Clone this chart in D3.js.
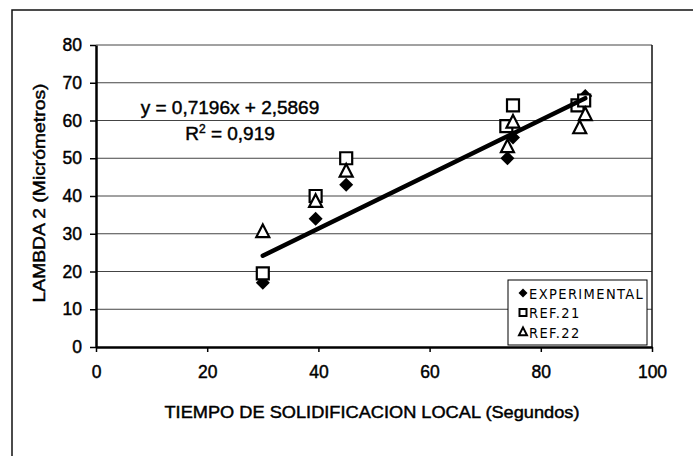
<!DOCTYPE html>
<html>
<head>
<meta charset="utf-8">
<script src="https://cdn.jsdelivr.net/npm/d3@7"></script>
<style>
  body { margin: 0; background: #fff; }
  svg { display: block; font-family: "Liberation Sans", Arial, sans-serif; }
  .ink { stroke: #000; stroke-width: 0.45px; }
</style>
</head>
<body>
<div id="chart"></div>
<script>
// Data
const expX = [30, 39.5, 45, 74, 75, 88];
const expY = [17, 34, 43, 50, 55.5, 66.5];
const ref21X = [30, 39.5, 45, 73.8, 75, 86.6, 87.8];
const ref21Y = [19.5, 40, 50, 58.5, 64, 64, 65.3];
const ref22X = [30, 39.5, 45, 74, 75, 87, 88];
const ref22Y = [30.5, 38.5, 46.5, 53, 59.5, 58, 61.5];
const xTicks = [0, 20, 40, 60, 80, 100];
const yTicks = [0, 10, 20, 30, 40, 50, 60, 70, 80];
const trendSlope = 0.7196, trendIntercept = 2.5869, trendR2 = "0,919";
const trendRange = [30, 88];
const seriesNames = ["EXPERIMENTAL", "REF.21", "REF.22"];

const W = 693, H = 456;
const margin = { top: 45, right: 41, bottom: 109, left: 96 },
      width = W - margin.left - margin.right,
      height = H - margin.top - margin.bottom;

const svg = d3.select("#chart").append("svg")
    .attr("width", W)
    .attr("height", H);

// outer frame (runs off the bottom/right of the picture)
svg.append("rect")
    .attr("x", 12).attr("y", 10)
    .attr("width", 700).attr("height", 470)
    .attr("fill", "none")
    .attr("stroke", "#111")
    .attr("stroke-width", 1.5);

const g = svg.append("g")
    .attr("transform", `translate(${margin.left},${margin.top})`);

// Scales
const x = d3.scaleLinear().domain([0, 100]).range([0, width]);
const y = d3.scaleLinear().domain([0, 80]).range([height, 0]);

// gridlines
g.selectAll("line.grid")
    .data(yTicks.filter(d => d > 0))
    .enter()
    .append("line")
    .attr("class", "grid")
    .attr("x1", 0).attr("x2", width)
    .attr("y1", d => y(d)).attr("y2", d => y(d))
    .attr("stroke", "#444")
    .attr("stroke-width", 1);

// right border
g.append("line")
    .attr("x1", width).attr("x2", width)
    .attr("y1", 0).attr("y2", height)
    .attr("stroke", "#111").attr("stroke-width", 1.5);

// Axes
const xAxis = g.append("g")
    .attr("transform", `translate(0,${height})`)
    .call(d3.axisBottom(x).tickValues(xTicks).tickSize(5).tickPadding(14).tickSizeOuter(0));
const yAxis = g.append("g")
    .call(d3.axisLeft(y).tickValues(yTicks).tickSize(6).tickPadding(8).tickSizeOuter(0));

[xAxis, yAxis].forEach(a => {
    a.select(".domain").attr("stroke", "#000").attr("stroke-width", 2.5);
    a.selectAll(".tick line").attr("stroke", "#000").attr("stroke-width", 1.5);
    a.selectAll(".tick text")
        .attr("class", "ink")
        .style("font-family", "Liberation Sans, Arial, sans-serif")
        .style("font-size", "17.5px")
        .attr("fill", "#000");
});

// marker shapes
const diamond = s => `M0,${-s}L${s},0L0,${s}L${-s},0Z`;
const square = s => `M${-s},${-s}H${s}V${s}H${-s}Z`;
const triangle = s => `M0,${-s * 1.15}L${s},${s * 0.8}L${-s},${s * 0.8}Z`;

const expData = expX.map((v, i) => ({ x: v, y: expY[i] }));
const ref21Data = ref21X.map((v, i) => ({ x: v, y: ref21Y[i] }));
const ref22Data = ref22X.map((v, i) => ({ x: v, y: ref22Y[i] }));

g.selectAll("path.exp")
    .data(expData)
    .enter()
    .append("path")
    .attr("transform", d => `translate(${x(d.x)},${y(d.y)})`)
    .attr("d", diamond(7))
    .attr("fill", "#000");

g.selectAll("path.ref21")
    .data(ref21Data)
    .enter()
    .append("path")
    .attr("transform", d => `translate(${x(d.x)},${y(d.y)})`)
    .attr("d", square(6))
    .attr("fill", "#fff")
    .attr("stroke", "#000")
    .attr("stroke-width", 2.2);

g.selectAll("path.ref22")
    .data(ref22Data)
    .enter()
    .append("path")
    .attr("transform", d => `translate(${x(d.x)},${y(d.y)})`)
    .attr("d", triangle(6.5))
    .attr("fill", "#fff")
    .attr("stroke", "#000")
    .attr("stroke-width", 2.2);

// Trend line
g.append("line")
    .attr("x1", x(trendRange[0]))
    .attr("y1", y(trendSlope * trendRange[0] + trendIntercept))
    .attr("x2", x(trendRange[1]))
    .attr("y2", y(trendSlope * trendRange[1] + trendIntercept))
    .attr("stroke", "#000")
    .attr("stroke-width", 4.5)
    .attr("stroke-linecap", "round");

// Equation labels
g.append("text")
    .attr("class", "ink")
    .attr("x", 134).attr("y", 69)
    .attr("text-anchor", "middle")
    .style("font-size", "19px")
    .text(`y = ${String(trendSlope).replace(".", ",")}x + ${String(trendIntercept).replace(".", ",")}`);

const r2 = g.append("text")
    .attr("class", "ink")
    .attr("x", 134).attr("y", 95)
    .attr("text-anchor", "middle")
    .style("font-size", "19px");
r2.append("tspan").text("R");
r2.append("tspan").attr("dy", -7).style("font-size", "12px").text("2");
r2.append("tspan").attr("dy", 7).text(` = ${trendR2}`);

// Axis titles
svg.append("text")
    .attr("class", "ink")
    .attr("x", 372).attr("y", 418)
    .attr("text-anchor", "middle")
    .attr("textLength", 415)
    .attr("lengthAdjust", "spacingAndGlyphs")
    .style("font-size", "16.5px")
    .text("TIEMPO DE SOLIDIFICACION LOCAL (Segundos)");

svg.append("text")
    .attr("class", "ink")
    .attr("transform", "rotate(-90)")
    .attr("x", -193).attr("y", 45)
    .attr("text-anchor", "middle")
    .attr("textLength", 219)
    .attr("lengthAdjust", "spacingAndGlyphs")
    .style("font-size", "16.5px")
    .text("LAMBDA 2 (Micrómetros)");

// Legend
const legend = g.append("g")
    .attr("transform", `translate(${508 - margin.left},${280 - margin.top})`);

legend.append("rect")
    .attr("width", 139).attr("height", 65)
    .attr("fill", "#fff")
    .attr("stroke", "#000")
    .attr("stroke-width", 1);

const legendShapes = [
    { d: diamond(4.5), fill: "#000", stroke: "none" },
    { d: square(3.5), fill: "#fff", stroke: "#000" },
    { d: triangle(4), fill: "#fff", stroke: "#000" }
];

const item = legend.selectAll(".legend")
    .data(seriesNames)
    .enter()
    .append("g")
    .attr("transform", (d, i) => `translate(0,${13 + i * 19.5})`);

item.append("path")
    .attr("transform", "translate(15,0)")
    .attr("d", (d, i) => legendShapes[i].d)
    .attr("fill", (d, i) => legendShapes[i].fill)
    .attr("stroke", (d, i) => legendShapes[i].stroke)
    .attr("stroke-width", 2);

item.append("text")
    .attr("x", 21)
    .attr("y", 5.5)
    .style("font-family", "DejaVu Sans Condensed, Liberation Sans, sans-serif")
    .style("font-size", "14.5px")
    .style("letter-spacing", "1.4px")
    .text(d => d);
</script>
</body>
</html>
